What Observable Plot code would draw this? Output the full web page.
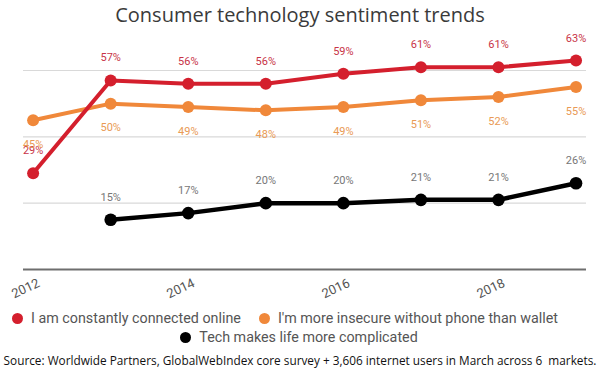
<!DOCTYPE html>
<html>
<head>
<meta charset="utf-8">
<script src="https://cdn.jsdelivr.net/npm/d3@7"></script>
<script src="https://cdn.jsdelivr.net/npm/@observablehq/plot@0.6"></script>
<style>
  html, body { margin: 0; padding: 0; background: #fff; }
  #wrap { position: relative; width: 600px; height: 375px; overflow: hidden; }
  #title { height: 30px; line-height: 30px; text-align: center; font-family: "Open Sans", sans-serif; font-size: 20px; color: #3a3a3a; white-space: nowrap; }
  #chart svg { display: block; overflow: visible; }
  .lrow { position: absolute; left: 0; display: flex; justify-content: center; align-items: center; font-family: Roboto, sans-serif; font-size: 14.3px; color: #555; white-space: nowrap; }
  .litem { display: flex; align-items: center; margin: 0 9px; }
  .ldot { width: 11px; height: 11px; border-radius: 50%; margin-right: 8px; flex: none; }
  #caption { position: absolute; left: 0; width: 600px; top: 352px; text-align: center; font-family: "Open Sans", sans-serif; font-size: 11.8px; color: #111; white-space: pre; }
</style>
</head>
<body>
<div id="wrap">
  <div id="title">Consumer technology sentiment trends</div>
  <div id="chart"></div>
  <div id="legend"></div>
  <div id="caption">Source: Worldwide Partners, GlobalWebIndex core survey + 3,606 internet users in March across 6  markets.</div>
</div>
<script>
const years = [2012, 2013, 2014, 2015, 2016, 2017, 2018, 2019];
const connected = [29, 57, 56, 56, 59, 61, 61, 63];
const insecure = [45, 50, 49, 48, 49, 51, 52, 55];
const complicated = [null, 15, 17, 20, 20, 21, 21, 26];
const seriesNames = ["I am constantly connected online", "I'm more insecure without phone than wallet", "Tech makes life more complicated"];
const seriesColors = ["#d41f2d", "#f0883a", "#000000"];
const labelColors = ["#c83447", "#e99a55", "#777777"];
const xTicks = [2012, 2014, 2016, 2018];
const yGrid = [20, 40, 60];

const seriesValues = [connected, insecure, complicated];
const rows = [];
[1, 0, 2].forEach(s => {
  years.forEach((yr, i) => {
    const v = seriesValues[s][i];
    if (v != null) rows.push({ year: yr, value: v, series: seriesNames[s], s });
  });
});
const bySeries = s => rows.filter(d => d.s === s);

const chart = Plot.plot({
  width: 600,
  height: 275,
  marginTop: 40,
  marginBottom: 36,
  marginLeft: 23,
  marginRight: 14,
  x: { domain: [2011.876, 2019.135], axis: null, label: null },
  y: { domain: [0, 60], axis: null, label: null },
  color: { domain: seriesNames, range: seriesColors },
  style: { fontFamily: "Roboto, sans-serif", background: "transparent" },
  marks: [
    Plot.gridY(yGrid, { stroke: "#d9d9d9", strokeOpacity: 1, strokeWidth: 1.2 }),
    Plot.ruleY([0], { stroke: "#6e6e6e", strokeWidth: 1.8 }),
    Plot.axisX({ ticks: xTicks, tickFormat: "d", tickSize: 0, tickRotate: -25, textAnchor: "middle", lineAnchor: "middle", tickPadding: 19, dx: -7.5, fontSize: 13, fill: "#555", label: null }),
    Plot.line(bySeries(1), { x: "year", y: "value", stroke: "series", strokeWidth: 4 }),
    Plot.line(bySeries(0), { x: "year", y: "value", stroke: "series", strokeWidth: 4 }),
    Plot.line(bySeries(2), { x: "year", y: "value", stroke: "series", strokeWidth: 4.5 }),
    Plot.dot(bySeries(1), { x: "year", y: "value", fill: "series", r: 6 }),
    Plot.dot(bySeries(0), { x: "year", y: "value", fill: "series", r: 6 }),
    Plot.dot(bySeries(2), { x: "year", y: "value", fill: "series", r: 6.3 }),
    Plot.text(bySeries(0), { x: "year", y: "value", text: d => d.value + "%", dy: -22.5, fill: labelColors[0], fontSize: 11 }),
    Plot.text(bySeries(1), { x: "year", y: "value", text: d => d.value + "%", dy: 24, fill: labelColors[1], fontSize: 11 }),
    Plot.text(bySeries(2), { x: "year", y: "value", text: d => d.value + "%", dy: -22.3, fill: labelColors[2], fontSize: 11 })
  ]
});
document.getElementById("chart").appendChild(chart);

const legend = document.getElementById("legend");
const rowsDef = [
  { items: [0, 1], top: 308, width: 570 },
  { items: [2], top: 327, width: 598 }
];
rowsDef.forEach(r => {
  const row = document.createElement("div");
  row.className = "lrow";
  row.style.top = r.top + "px";
  row.style.width = r.width + "px";
  row.style.height = "20px";
  r.items.forEach(s => {
    const item = document.createElement("div");
    item.className = "litem";
    const dot = document.createElement("span");
    dot.className = "ldot";
    dot.style.background = seriesColors[s];
    const label = document.createElement("span");
    label.textContent = seriesNames[s];
    item.appendChild(dot);
    item.appendChild(label);
    row.appendChild(item);
  });
  legend.appendChild(row);
});
</script>
</body>
</html>
